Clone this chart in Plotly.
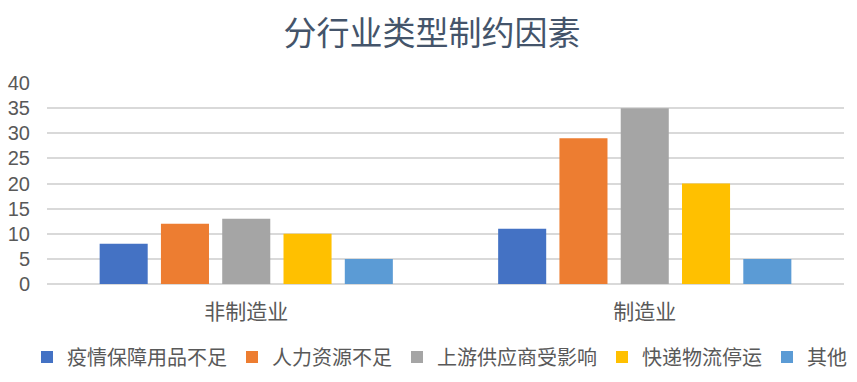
import plotly.graph_objects as go

categories = ["非制造业", "制造业"]
series_names = ["疫情保障用品不足", "人力资源不足", "上游供应商受影响", "快递物流停运", "其他"]
s1 = [8, 11]
s2 = [12, 29]
s3 = [13, 35]
s4 = [10, 20]
s5 = [5, 5]
colors = ["#4472C4", "#ED7D31", "#A5A5A5", "#FFC000", "#5B9BD5"]
y_ticks = [0, 5, 10, 15, 20, 25, 30, 35, 40]

fig = go.Figure()
for name, vals, c in zip(series_names, [s1, s2, s3, s4, s5], colors):
    fig.add_trace(go.Bar(x=categories, y=vals, name=name, marker=dict(color=c, line=dict(width=0))))

W, H = 857, 382
ML, MR, MT, MB = 47, 13, 83, 98
PW, PH = W - ML - MR, H - MT - MB
font_family = "Liberation Sans, Arial, Noto Sans CJK SC, sans-serif"
fig.update_layout(
    width=W, height=H,
    paper_bgcolor="white", plot_bgcolor="white",
    margin=dict(l=ML, r=MR, t=MT, b=MB, autoexpand=False),
    barmode="group", bargap=0.231, bargroupgap=0.216,
    font=dict(family=font_family, color="#595959", size=20),
    title=dict(text="分行业类型制约因素", x=432 / W, xanchor="center", xref="container",
               y=1 - 33 / H, yanchor="middle", yref="container",
               font=dict(family="Noto Sans CJK SC, sans-serif", size=33, color="#44546A")),
    legend=dict(orientation="h", xref="paper", x=(27 - ML) / PW, xanchor="left",
                yref="paper", y=(H - MB - 357) / PH, yanchor="middle",
                font=dict(size=20, color="#595959"), itemwidth=30, tracegroupgap=0,
                traceorder="normal", bgcolor="rgba(0,0,0,0)"),
    showlegend=True,
)
fig.update_yaxes(range=[0, 40], tickvals=y_ticks, showgrid=True, gridcolor="#D9D9D9", gridwidth=1.5,
                 zeroline=True, zerolinecolor="#D9D9D9", zerolinewidth=1.5,
                 showline=False, ticks="", ticklabelstandoff=16, tickfont=dict(size=20, color="#595959"))
fig.update_xaxes(showline=False, ticks="", tickfont=dict(size=21, color="#595959"), ticklabelstandoff=13)

fig.write_html("out.html", config={"displayModeBar": False},
               post_script="document.body.style.margin='0';document.body.style.overflow='hidden';")
